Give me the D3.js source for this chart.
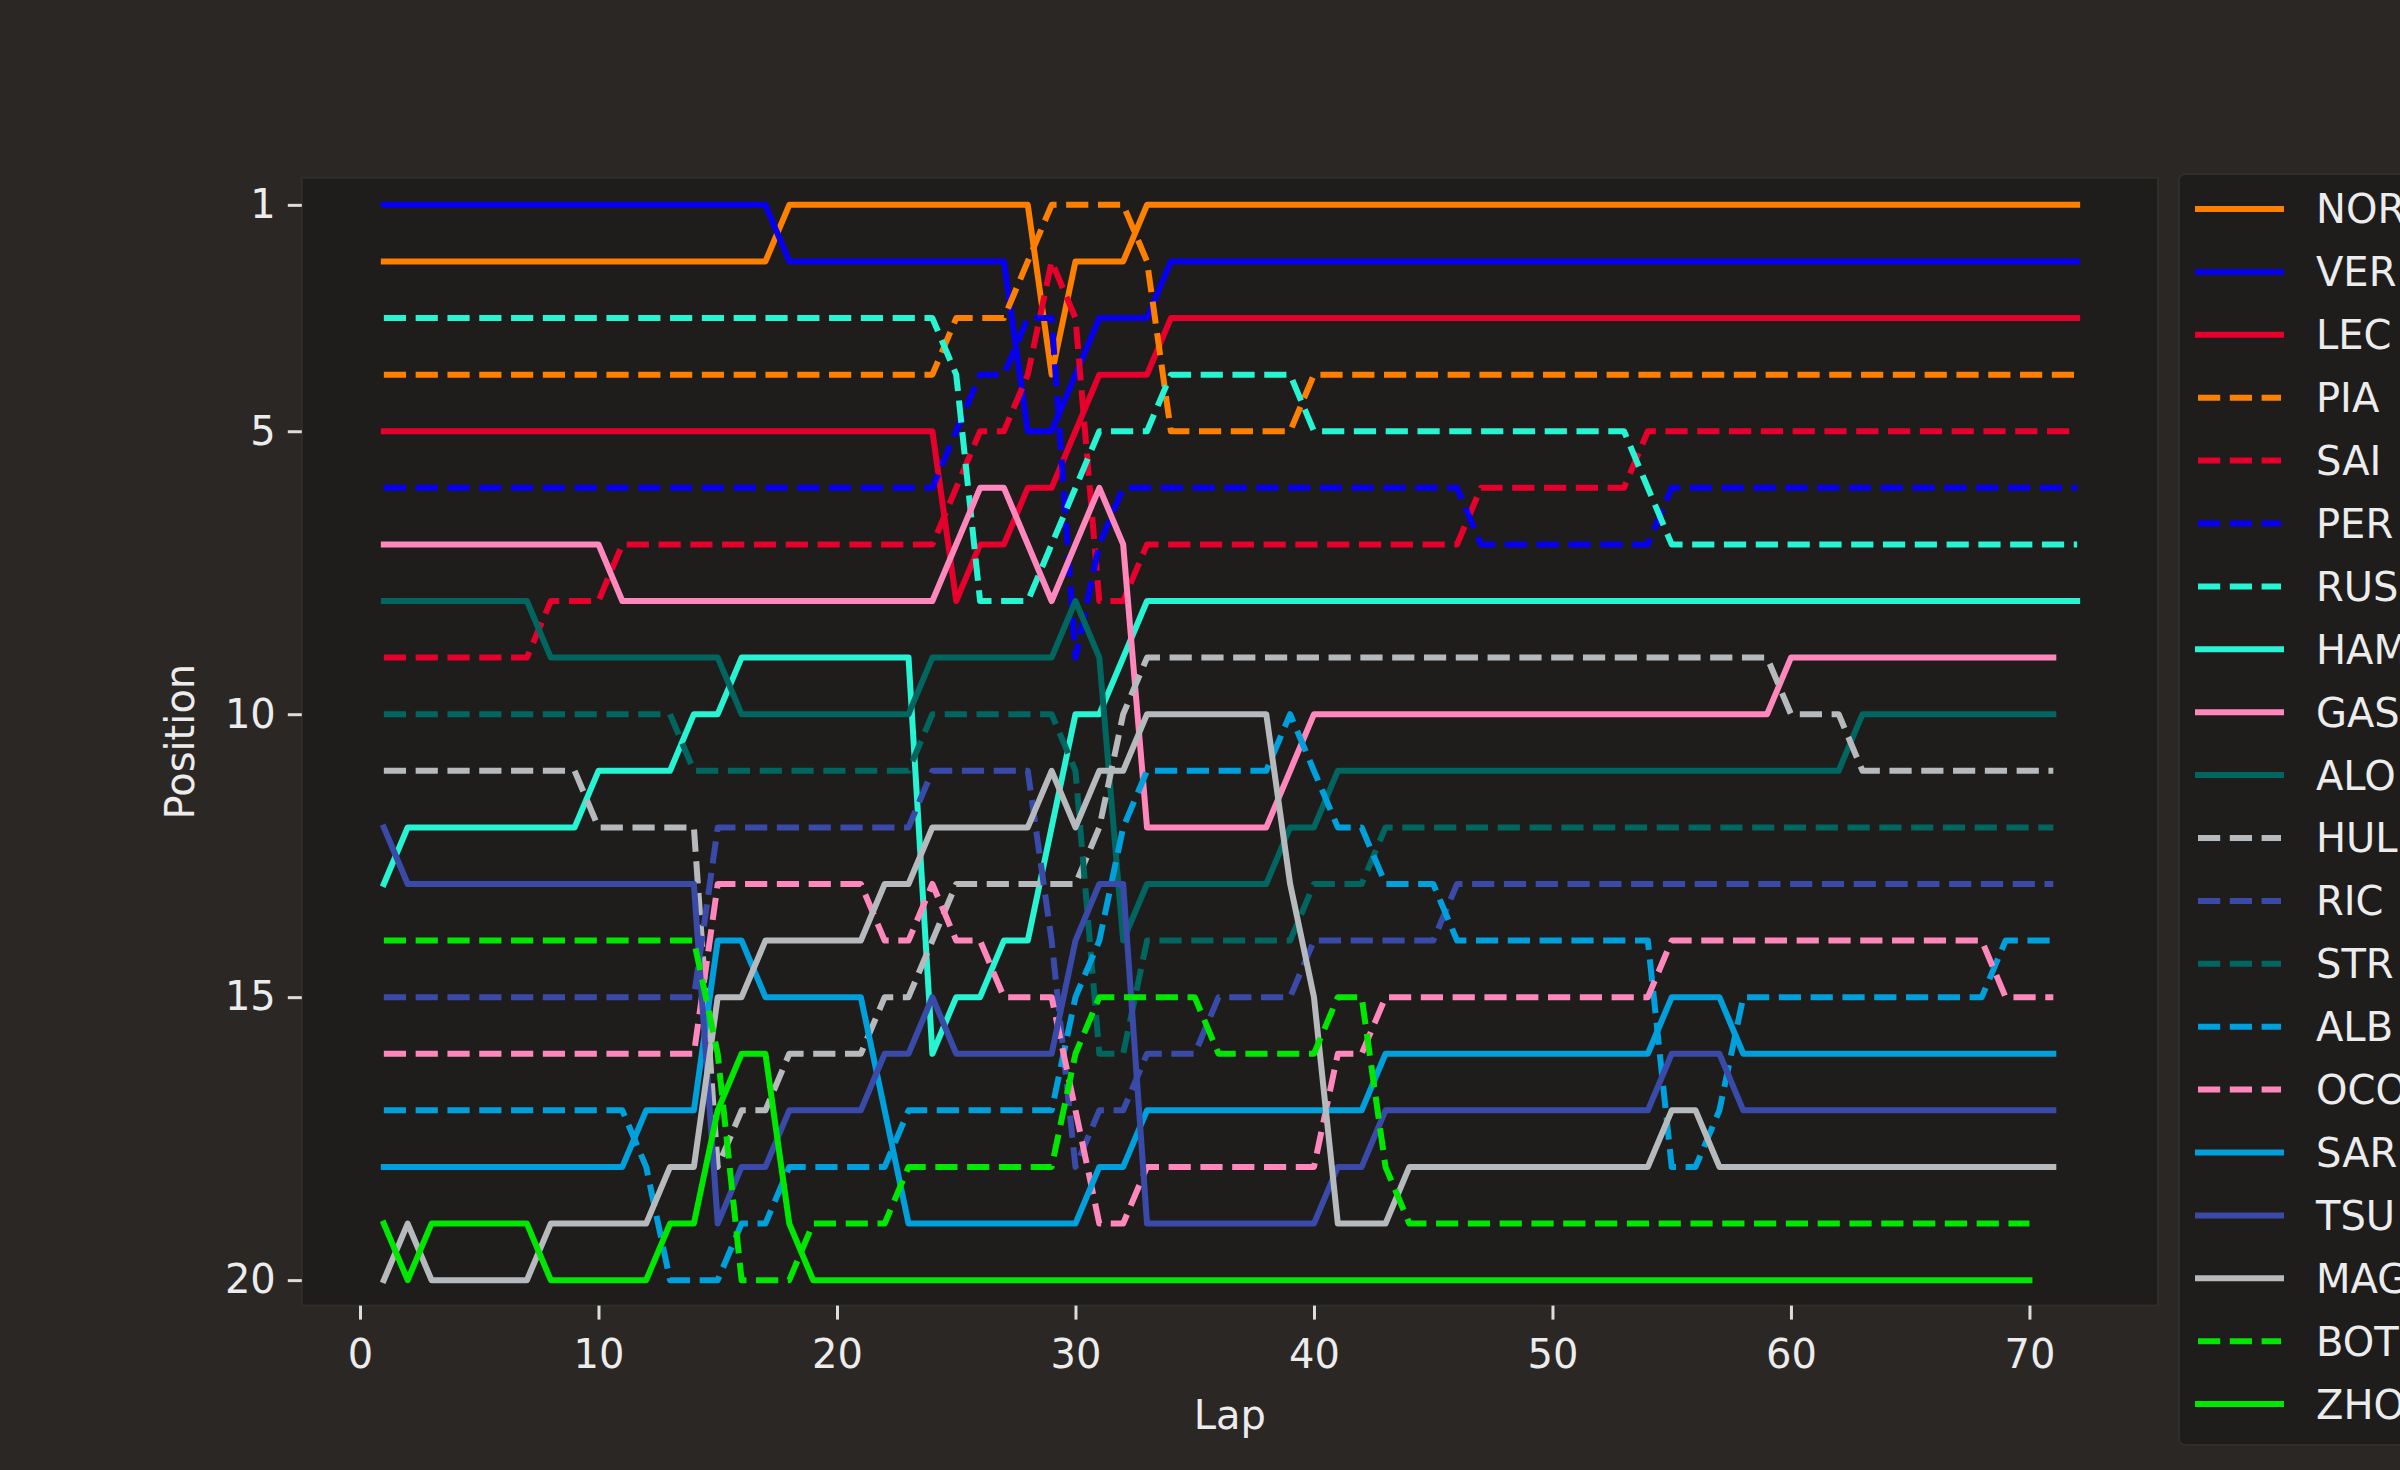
<!DOCTYPE html>
<html>
<head>
<meta charset="utf-8">
<script src="https://cdn.jsdelivr.net/npm/d3@7"></script>
<style>
  body { margin: 0; background: #2b2725; }
  text { font-family: "DejaVu Sans", sans-serif; fill: #ececec; }
</style>
</head>
<body>
<svg id="vis"></svg>
<script>
  // Driver order (legend order) and styling keys
  var drivers = ['NOR','VER','LEC','PIA','SAI','PER','RUS','HAM','GAS','ALO','HUL','RIC','STR','ALB','OCO','SAR','TSU','MAG','BOT','ZHO'];
  var driverColors = ['#ff8000','#0600ef','#e8002d','#ff8000','#e8002d','#0600ef','#27f4d2','#27f4d2','#ff87bc','#00665f',
                      '#b6babd','#3a4aa8','#00665f','#00a0dd','#ff87bc','#00a0dd','#3a4aa8','#b6babd','#00e700','#00e700'];
  var driverDashed = [false,false,false,true,true,true,true,false,false,false,
                      true,true,true,true,true,false,false,false,true,false];

  // Position per lap, starting at lap 1
  var NOR = [2,2,2,2,2,2,2,2,2,2, 2,2,2,2,2,2,2,1,1,1, 1,1,1,1,1,1,1,1,4,2, 2,2,1,1,1,1,1,1,1,1,
             1,1,1,1,1,1,1,1,1,1, 1,1,1,1,1,1,1,1,1,1, 1,1,1,1,1,1,1,1,1,1, 1,1];
  var VER = [1,1,1,1,1,1,1,1,1,1, 1,1,1,1,1,1,1,2,2,2, 2,2,2,2,2,2,2,5,5,4, 3,3,3,2,2,2,2,2,2,2,
             2,2,2,2,2,2,2,2,2,2, 2,2,2,2,2,2,2,2,2,2, 2,2,2,2,2,2,2,2,2,2, 2,2];
  var LEC = [5,5,5,5,5,5,5,5,5,5, 5,5,5,5,5,5,5,5,5,5, 5,5,5,5,8,7,7,6,6,5, 4,4,4,3,3,3,3,3,3,3,
             3,3,3,3,3,3,3,3,3,3, 3,3,3,3,3,3,3,3,3,3, 3,3,3,3,3,3,3,3,3,3, 3,3];
  var PIA = [4,4,4,4,4,4,4,4,4,4, 4,4,4,4,4,4,4,4,4,4, 4,4,4,4,3,3,3,2,1,1, 1,1,2,5,5,5,5,5,5,4,
             4,4,4,4,4,4,4,4,4,4, 4,4,4,4,4,4,4,4,4,4, 4,4,4,4,4,4,4,4,4,4, 4,4];
  var SAI = [9,9,9,9,9,9,9,8,8,8, 7,7,7,7,7,7,7,7,7,7, 7,7,7,7,6,5,5,4,2,3, 8,8,7,7,7,7,7,7,7,7,
             7,7,7,7,7,7,6,6,6,6, 6,6,6,5,5,5,5,5,5,5, 5,5,5,5,5,5,5,5,5,5, 5,5];
  var PER = [6,6,6,6,6,6,6,6,6,6, 6,6,6,6,6,6,6,6,6,6, 6,6,6,6,5,4,4,3,3,9, 7,6,6,6,6,6,6,6,6,6,
             6,6,6,6,6,6,7,7,7,7, 7,7,7,7,6,6,6,6,6,6, 6,6,6,6,6,6,6,6,6,6, 6,6];
  var RUS = [3,3,3,3,3,3,3,3,3,3, 3,3,3,3,3,3,3,3,3,3, 3,3,3,3,4,8,8,8,7,6, 5,5,5,4,4,4,4,4,4,5,
             5,5,5,5,5,5,5,5,5,5, 5,5,5,6,7,7,7,7,7,7, 7,7,7,7,7,7,7,7,7,7, 7,7];
  var HAM = [13,12,12,12,12,12,12,12,12,11, 11,11,11,10,10,9,9,9,9,9, 9,9,9,16,15,15,14,14,12,10, 10,9,8,8,8,8,8,8,8,8,
             8,8,8,8,8,8,8,8,8,8, 8,8,8,8,8,8,8,8,8,8, 8,8,8,8,8,8,8,8,8,8, 8,8];
  var GAS = [7,7,7,7,7,7,7,7,7,7, 8,8,8,8,8,8,8,8,8,8, 8,8,8,8,7,6,6,7,8,7, 6,7,12,12,12,12,12,12,11,10,
             10,10,10,10,10,10,10,10,10,10, 10,10,10,10,10,10,10,10,10,9, 9,9,9,9,9,9,9,9,9,9, 9];
  var ALO = [8,8,8,8,8,8,8,9,9,9, 9,9,9,9,9,10,10,10,10,10, 10,10,10,9,9,9,9,9,9,8, 9,14,13,13,13,13,13,13,12,12,
             11,11,11,11,11,11,11,11,11,11, 11,11,11,11,11,11,11,11,11,11, 11,11,10,10,10,10,10,10,10,10, 10];
  var HUL = [11,11,11,11,11,11,11,11,11,12, 12,12,12,12,18,17,17,16,16,16, 16,15,15,14,13,13,13,13,13,13, 12,10,9,9,9,9,9,9,9,9,
             9,9,9,9,9,9,9,9,9,9, 9,9,9,9,9,9,9,9,9,10, 10,10,11,11,11,11,11,11,11,11, 11];
  var RIC = [15,15,15,15,15,15,15,15,15,15, 15,15,15,15,12,12,12,12,12,12, 12,12,12,11,11,11,11,11,14,18, 17,17,16,16,16,15,15,15,15,14,
             14,14,14,14,14,13,13,13,13,13, 13,13,13,13,13,13,13,13,13,13, 13,13,13,13,13,13,13,13,13,13, 13];
  var STR = [10,10,10,10,10,10,10,10,10,10, 10,10,10,11,11,11,11,11,11,11, 11,11,11,10,10,10,10,10,10,11, 16,16,14,14,14,14,14,14,14,13,
             13,13,12,12,12,12,12,12,12,12, 12,12,12,12,12,12,12,12,12,12, 12,12,12,12,12,12,12,12,12,12, 12];
  var ALB = [17,17,17,17,17,17,17,17,17,17, 17,18,20,20,20,19,19,18,18,18, 18,18,17,17,17,17,17,17,17,15, 14,12,11,11,11,11,11,11,10,11,
             12,12,13,13,13,14,14,14,14,14, 14,14,14,14,18,18,17,15,15,15, 15,15,15,15,15,15,15,15,14,14, 14];
  var OCO = [16,16,16,16,16,16,16,16,16,16, 16,16,16,16,13,13,13,13,13,13, 13,14,14,13,14,14,15,15,15,17, 19,19,18,18,18,18,18,18,18,18,
             16,16,15,15,15,15,15,15,15,15, 15,15,15,15,14,14,14,14,14,14, 14,14,14,14,14,14,14,14,15,15, 15];
  var SAR = [18,18,18,18,18,18,18,18,18,18, 18,17,17,17,14,14,15,15,15,15, 15,17,19,19,19,19,19,19,19,19, 18,18,17,17,17,17,17,17,17,17,
             17,17,16,16,16,16,16,16,16,16, 16,16,16,16,15,15,15,16,16,16, 16,16,16,16,16,16,16,16,16,16, 16];
  var TSU = [12,13,13,13,13,13,13,13,13,13, 13,13,13,13,19,18,18,17,17,17, 17,16,16,15,16,16,16,16,16,14, 13,13,19,19,19,19,19,19,19,19,
             18,18,17,17,17,17,17,17,17,17, 17,17,17,17,16,16,16,17,17,17, 17,17,17,17,17,17,17,17,17,17, 17];
  var MAG = [20,19,20,20,20,20,20,19,19,19, 19,19,18,18,15,15,14,14,14,14, 14,13,13,12,12,12,12,12,11,12, 11,11,10,10,10,10,10,10,13,15,
             19,19,19,18,18,18,18,18,18,18, 18,18,18,18,17,17,18,18,18,18, 18,18,18,18,18,18,18,18,18,18, 18];
  var BOT = [14,14,14,14,14,14,14,14,14,14, 14,14,14,14,16,20,20,20,19,19, 19,19,18,18,18,18,18,18,18,16, 15,15,15,15,15,16,16,16,16,16,
             15,15,18,19,19,19,19,19,19,19, 19,19,19,19,19,19,19,19,19,19, 19,19,19,19,19,19,19,19,19,19];
  var ZHO = [19,20,19,19,19,19,19,20,20,20, 20,20,19,19,17,16,16,19,20,20, 20,20,20,20,20,20,20,20,20,20, 20,20,20,20,20,20,20,20,20,20,
             20,20,20,20,20,20,20,20,20,20, 20,20,20,20,20,20,20,20,20,20, 20,20,20,20,20,20,20,20,20,20];

  var positionData = [NOR,VER,LEC,PIA,SAI,PER,RUS,HAM,GAS,ALO,HUL,RIC,STR,ALB,OCO,SAR,TSU,MAG,BOT,ZHO];

  var xTicks = [0,10,20,30,40,50,60,70];
  var yTicks = [1,5,10,15,20];

  // SVG Setup
  var svg = d3.select('#vis')
    .attr('width', 2400)
    .attr('height', 1470);

  svg.append('rect')
    .attr('width', 2400).attr('height', 1470)
    .attr('fill', '#2b2725');

  var plotLeft = 301.8, plotRight = 2158, plotTop = 177.7, plotBottom = 1305.6;

  var xscale = d3.scaleLinear()
    .domain([-2.44, 75.39])
    .range([plotLeft, plotRight]);

  var yscale = d3.scaleLinear()
    .domain([0.52, 20.45])
    .range([plotTop, plotBottom]);

  // Plot background
  svg.append('rect')
    .attr('x', plotLeft).attr('y', plotTop)
    .attr('width', plotRight - plotLeft).attr('height', plotBottom - plotTop)
    .attr('fill', '#1e1d1c')
    .attr('stroke', '#302d2b')
    .attr('stroke-width', 2);

  // Axes
  var xAxis = d3.axisBottom(xscale).tickValues(xTicks).tickSize(14).tickPadding(20);
  var yAxis = d3.axisLeft(yscale).tickValues(yTicks).tickSize(14).tickPadding(12);

  var gx = svg.append('g').attr('transform', 'translate(0,' + plotBottom + ')').call(xAxis);
  var gy = svg.append('g').attr('transform', 'translate(' + plotLeft + ',0)').call(yAxis);

  [gx, gy].forEach(function(g) {
    g.select('.domain').remove();
    g.selectAll('line').attr('stroke', '#dddddd').attr('stroke-width', 3);
    g.selectAll('text')
      .attr('fill', '#ececec')
      .style('font-size', '40px')
      .style('font-family', '"DejaVu Sans", sans-serif');
  });

  // Axis labels
  svg.append('text')
    .attr('x', (plotLeft + plotRight) / 2)
    .attr('y', 1429)
    .attr('text-anchor', 'middle')
    .style('font-size', '40px')
    .text('Lap');

  svg.append('text')
    .attr('transform', 'translate(194,' + ((plotTop + plotBottom) / 2) + ') rotate(-90)')
    .attr('text-anchor', 'middle')
    .style('font-size', '40px')
    .text('Position');

  // Lines
  var bindLineData = d3.line()
    .x(function(d, i) { return xscale(i + 1); })
    .y(function(d) { return yscale(d); });

  positionData.forEach(function(series, i) {
    svg.append('path')
      .attr('d', bindLineData(series))
      .attr('fill', 'none')
      .attr('stroke', driverColors[i])
      .attr('stroke-width', 6)
      .attr('stroke-linejoin', 'round')
      .attr('stroke-linecap', driverDashed[i] ? 'butt' : 'square')
      .attr('stroke-dasharray', driverDashed[i] ? '22.2,9.6' : null);
  });

  // Legend
  var legend = svg.append('g');
  legend.append('rect')
    .attr('x', 2179).attr('y', 174)
    .attr('width', 260).attr('height', 1271)
    .attr('rx', 6)
    .attr('fill', '#1e1d1c')
    .attr('stroke', '#302d2b')
    .attr('stroke-width', 2);

  drivers.forEach(function(name, i) {
    var ly = 209 + i * 62.9;
    legend.append('line')
      .attr('x1', 2198).attr('x2', 2281)
      .attr('y1', ly).attr('y2', ly)
      .attr('stroke', driverColors[i])
      .attr('stroke-width', 6)
      .attr('stroke-linecap', driverDashed[i] ? 'butt' : 'square')
      .attr('stroke-dasharray', driverDashed[i] ? '22.2,9.6' : null);
    legend.append('text')
      .attr('x', 2316)
      .attr('y', ly)
      .attr('dy', '0.36em')
      .style('font-size', '40px')
      .text(name);
  });
</script>
</body>
</html>
